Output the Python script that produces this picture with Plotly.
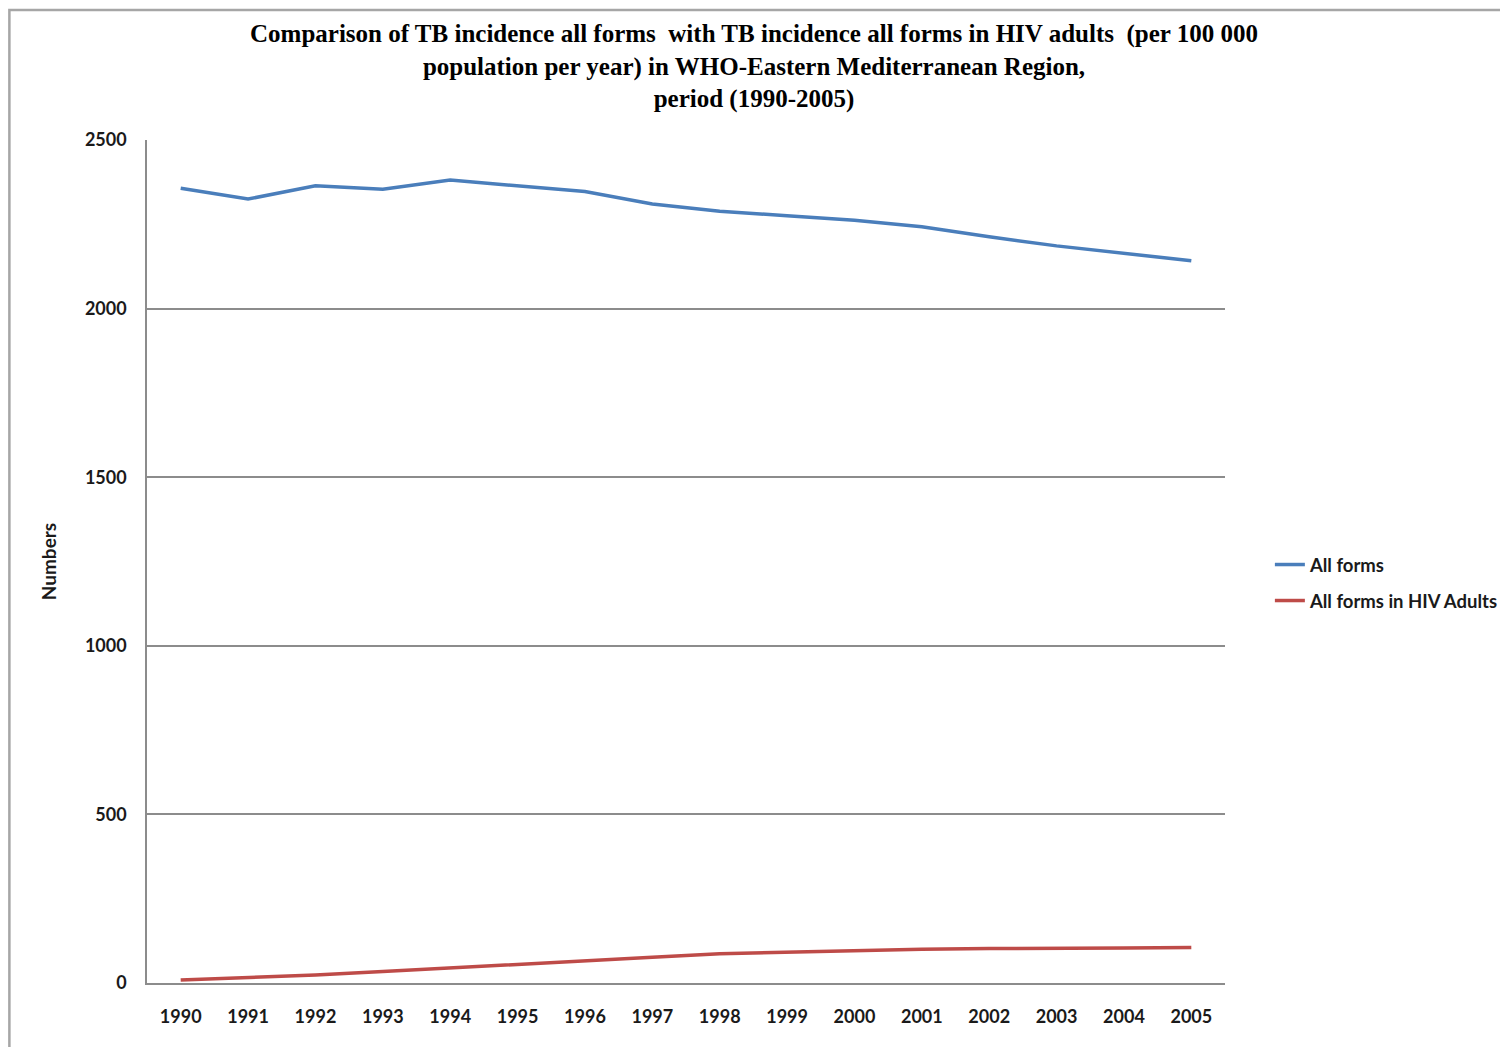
import plotly.graph_objects as go

years = [str(y) for y in range(1990, 2006)]
all_forms = [2357, 2325, 2364, 2354, 2381, 2363, 2347, 2310, 2289, 2275, 2262, 2243, 2213, 2186, 2163, 2142]
hiv_adults = [9, 16, 24, 34, 44, 55, 66, 76, 87, 92, 96, 100, 102, 104, 104, 105]
y_ticks = [0, 500, 1000, 1500, 2000, 2500]

# page body margin offset (browser default 8px)
OFF = 8
W, H = 1508, 1047 - OFF
# plot area in reference pixels
L, R, T, B = 147, 1228, 140, 983

def px_x(p):
    return (p - L) / (R - L)

def px_y(p):
    return (B - p) / (B - T)

fig = go.Figure()
fig.add_trace(go.Scatter(x=years, y=all_forms, mode="lines", name="All forms",
                         line=dict(color="#4A7EBB", width=3.5), legend="legend"))
fig.add_trace(go.Scatter(x=years, y=hiv_adults, mode="lines", name="All forms in HIV Adults",
                         line=dict(color="#BE4B48", width=3.5), legend="legend2"))

tick_font = dict(family="Lato", size=18, color="#1a1a1a", weight="bold")
legend_font = dict(family="Lato", size=18.5, color="#1a1a1a", weight="bold")

fig.update_layout(
    width=W, height=H,
    margin=dict(l=L - OFF, r=W - (R - OFF) - 3, t=T - OFF, b=H - (B - OFF)),
    paper_bgcolor="white", plot_bgcolor="white",
    showlegend=True,
    title=dict(
        text="Comparison of TB incidence all forms  with TB incidence all forms in HIV adults  (per 100 000<br>population per year) in WHO-Eastern Mediterranean Region,<br>period (1990-2005)",
        x=(754 - OFF) / W, xanchor="center", xref="container",
        y=1 - 34 / H, yanchor="top", yref="container",
        font=dict(family="Liberation Serif", size=25, color="black", weight="bold"),
    ),
    xaxis=dict(
        type="category", categoryorder="array", categoryarray=years,
        range=[-0.5, len(years) - 0.5],
        showgrid=False, showline=True, linecolor="#8c8c8c", linewidth=1.5,
        ticks="", tickfont=tick_font, ticklabelstandoff=17,
        fixedrange=True,
    ),
    yaxis=dict(
        range=[0, 2500], tickvals=y_ticks,
        showgrid=True, gridcolor="#8c8c8c", gridwidth=1.5,
        showline=True, linecolor="#8c8c8c", linewidth=1.5,
        zeroline=False, ticks="", tickfont=tick_font, ticklabelstandoff=15,
        title=dict(text="Numbers", font=dict(family="Lato", size=19, color="#1a1a1a", weight="bold"), standoff=23),
        fixedrange=True,
    ),
    legend=dict(x=px_x(1273), y=px_y(565), xanchor="left", yanchor="middle",
                font=legend_font, bgcolor="rgba(0,0,0,0)", itemwidth=30),
    legend2=dict(x=px_x(1273), y=px_y(601), xanchor="left", yanchor="middle",
                 font=legend_font, bgcolor="rgba(0,0,0,0)", itemwidth=30),
    shapes=[dict(
        type="path", xref="paper", yref="paper",
        path=f"M {px_x(9)} {px_y(1080)} L {px_x(9)} {px_y(10)} L {px_x(1540)} {px_y(10)}",
        line=dict(color="#a6a6a6", width=2.5), layer="above",
    )],
)

fig.write_html("out.html")
